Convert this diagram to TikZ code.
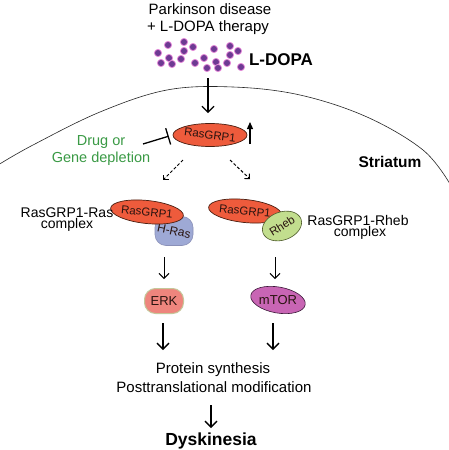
\documentclass[tikz,border=0pt]{standalone}
\usepackage{fontspec}
\setmainfont{Liberation Sans}
\usetikzlibrary{shapes.geometric,arrows.meta}
\definecolor{rgfill}{HTML}{EE5B3C}
\definecolor{rgline}{HTML}{4A1E10}
\definecolor{hrasfill}{HTML}{9EA9D5}
\definecolor{hrasline}{HTML}{8A90B8}
\definecolor{rhebfill}{HTML}{C2DE8E}
\definecolor{rhebline}{HTML}{4D5A2A}
\definecolor{erkfill}{HTML}{EE857D}
\definecolor{erkline}{HTML}{C5C79A}
\definecolor{mtorfill}{HTML}{C865B4}
\definecolor{mtorline}{HTML}{3A1838}
\definecolor{dotfill}{HTML}{6E3A93}
\definecolor{dotring}{HTML}{E58AD8}
\definecolor{druggreen}{HTML}{3A9A45}
\definecolor{intext}{HTML}{2A1410}
\begin{document}
\begin{tikzpicture}[x=1pt,y=-1pt,
  lbl/.style={anchor=base,inner sep=0pt,font=\fontsize{15}{15}\selectfont},
  lblsm/.style={anchor=base,inner sep=0pt,font=\fontsize{14}{14}\selectfont},
  prot/.style={ellipse,draw=rgline,fill=rgfill,line width=0.7pt,inner sep=0pt,
     minimum width=55pt,minimum height=23pt,text=intext,font=\fontsize{11.5}{11.5}\selectfont},
  blob/.style={rectangle,rounded corners=11pt,line width=0.6pt,inner sep=0pt,text=intext},
  arrsm/.style={line width=1pt,-{Straight Barb[length=5pt,width=10pt]}},
  arrbig/.style={line width=1.3pt,-{Straight Barb[length=6pt,width=12pt]}},
  dasharr/.style={line width=1pt,dash pattern=on 3pt off 2pt,-{Straight Barb[angle=90:4pt 1]}}
]
\useasboundingbox (0,0) rectangle (448,450);
\fill[white] (0,0) rectangle (448,450);

% membrane
\draw[line width=0.6pt,black!85] plot[smooth,tension=0.6] coordinates
  {(-2,165) (33,145) (100,112) (167,90) (233,87) (300,95) (367,117) (423,150) (450,184)};

% top texts
\node[lbl] (pd) at (210,14) {Parkinson disease};
\node[lbl] (ld) at (208,31) {+ L-DOPA therapy};
\foreach \p in {(168,45),(184,42),(193,47),(158,53),(184,51),(169,58),(181,59),(161,63),(172,64),(195,63),(204,58),(214,49),(207,68),(216,62),(218,68),(227,63),(230,46),(238,51),(230,55),(241,67)}
  \filldraw[fill=dotfill,draw=dotring,line width=0.8pt] \p circle (3.6pt);
\node[anchor=base,inner sep=0pt,font=\bfseries\fontsize{17}{17}\selectfont] (ldopa) at (281,65) {L-DOPA};

% main RasGRP1
\node[prot] (rg) at (210,135) {\rotatebox{-7}{RasGRP1}};
\coordinate (ldtop) at (208,78);
\draw[arrbig,shorten >=10pt] (ldtop) -- (ldtop |- rg.north);
\coordinate (upb) at (250,144);
\coordinate (upt) at (250,122);
\draw[line width=1.2pt,-{Triangle[length=7pt,width=6pt]}] (upb) -- (upt);

% inhibition
\node[anchor=base,inner sep=0pt,font=\fontsize{14.5}{14.5}\selectfont,text=druggreen] (drug) at (101,145) {Drug or};
\node[anchor=base,inner sep=0pt,font=\fontsize{14.5}{14.5}\selectfont,text=druggreen] (gene) at (101,162) {Gene depletion};
\coordinate (inhS) at (143,144);
\draw[line width=1.3pt,-{Bar[width=17pt]},shorten >=4pt] (inhS) -- (rg.west);

\node[anchor=base,inner sep=0pt,font=\bfseries\fontsize{15.5}{15.5}\selectfont] (str) at (390,167) {Striatum};

% dashed arrows
\coordinate (dl1) at (183,160);
\coordinate (dl2) at (163,180);
\coordinate (dr1) at (230,160);
\coordinate (dr2) at (250,179);
\draw[dasharr] (dl1) -- (dl2);
\draw[dasharr] (dr1) -- (dr2);

% left complex
\node[blob,fill=hrasfill,draw=hrasline,minimum width=38pt,minimum height=29pt,
  font=\fontsize{12}{12}\selectfont] (hras) at (174,231) {\rotatebox{-12}{H-Ras}};
\node[prot,rotate=-6] (rgl) at (147,212) {RasGRP1};
\node[lblsm] (cl1) at (67,217) {RasGRP1-Ras};
\node[lblsm] (cl2) at (67,228) {complex};

% right complex
\node[prot,rotate=-6] (rgr) at (245,211) {RasGRP1};
\node[ellipse,fill=rhebfill,draw=rhebline,line width=0.6pt,inner sep=0pt,
  minimum width=31pt,minimum height=28pt,rotate=20,text=intext,
  font=\fontsize{11.5}{11.5}\selectfont] (rheb) at (282,226) {\rotatebox{12}{Rheb}};
\node[lblsm] (cr1) at (358,225) {RasGRP1-Rheb};
\node[lblsm] (cr2) at (360,236) {complex};

% ERK / mTOR
\node[blob,fill=erkfill,draw=erkline,line width=1pt,minimum width=39pt,minimum height=25pt,
  font=\fontsize{13}{13}\selectfont] (erk) at (164,301) {ERK};
\node[ellipse,fill=mtorfill,draw=mtorline,line width=0.6pt,inner sep=0pt,
  minimum width=44pt,minimum height=26pt,rotate=-10,text=intext,
  font=\fontsize{13}{13}\selectfont] (mtor) at (278,300) {\rotatebox{10}{mTOR}};

\coordinate (a1) at (164,257); \coordinate (a2) at (164,279);
\coordinate (b1) at (275,257); \coordinate (b2) at (275,279);
\draw[arrsm] (a1) -- (a2);
\draw[arrsm] (b1) -- (b2);

\coordinate (c1) at (163,323); \coordinate (c2) at (163,350);
\coordinate (d1) at (273,323); \coordinate (d2) at (273,350);
\draw[arrbig] (c1) -- (c2);
\draw[arrbig] (d1) -- (d2);

\node[lbl] (ps) at (213,373) {Protein synthesis};
\node[lbl] (ptm) at (214,392) {Posttranslational modification};
\coordinate (e1) at (211,405); \coordinate (e2) at (211,428);
\draw[arrbig] (e1) -- (e2);
\node[anchor=base,inner sep=0pt,font=\bfseries\fontsize{17.5}{17.5}\selectfont] (dys) at (211,445) {Dyskinesia};
\end{tikzpicture}
\end{document}
